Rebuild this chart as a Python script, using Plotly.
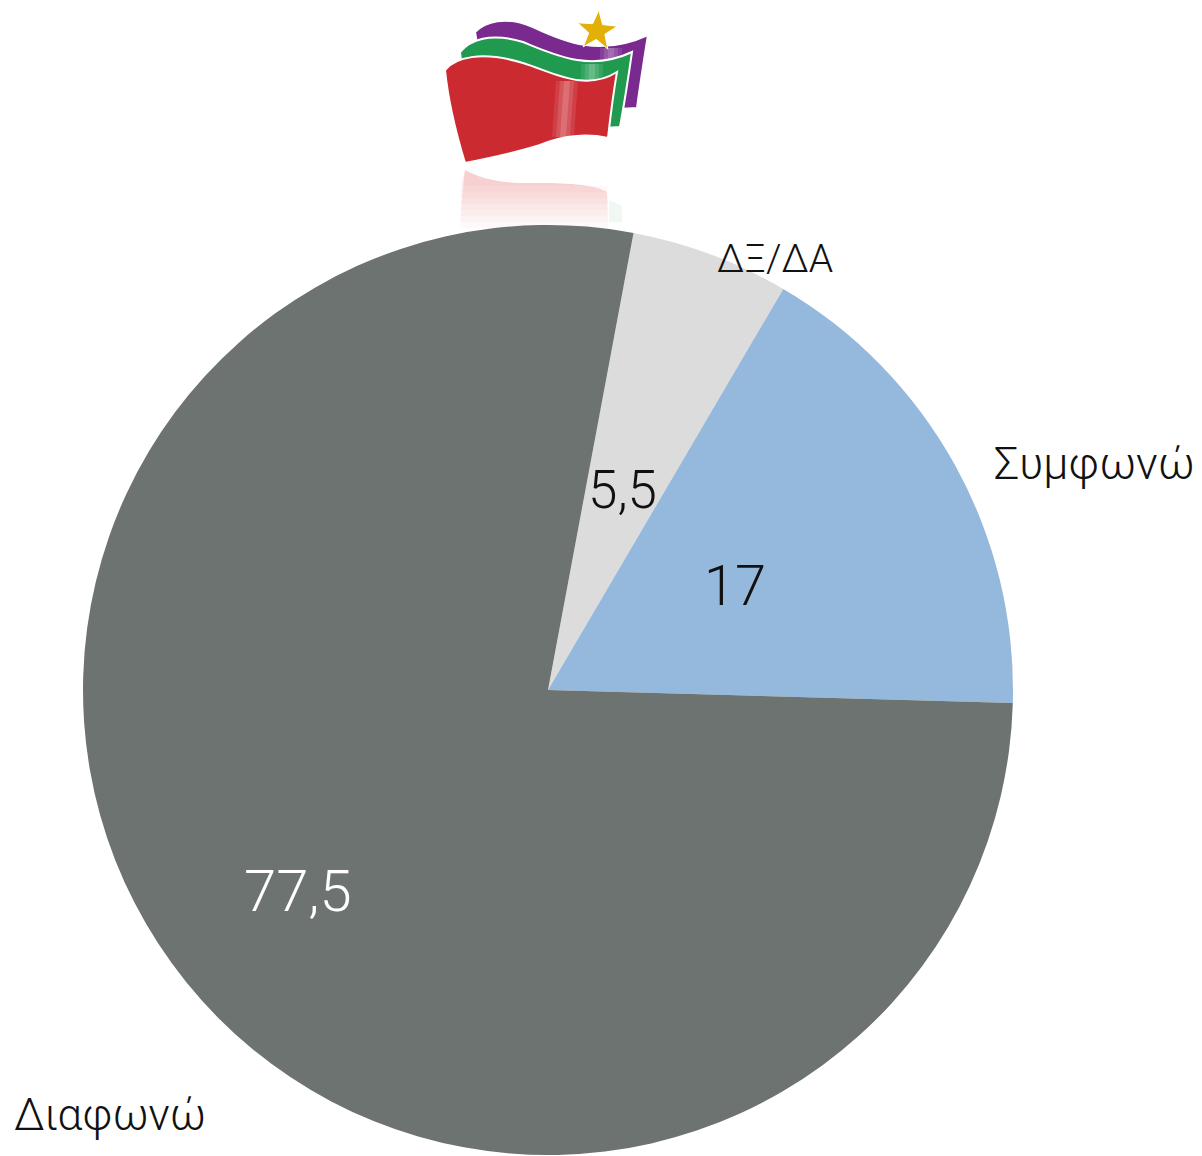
import math
import plotly.graph_objects as go

# Pie data
labels = ["ΔΞ/ΔΑ", "Συμφωνώ", "Διαφωνώ"]
values = [5.5, 17, 77.5]
valueText = ["5,5", "17", "77,5"]
sliceColors = ["#dcdcdc", "#95b9dc", "#6d7370"]
textColors = ["#111111", "#111111", "#ffffff"]
valueSizes = [53, 56, 58]

W, H = 1202, 1156
OFF = 8  # the page body adds an 8px margin, so compensate
FONT = "Roboto, Liberation Sans, DejaVu Sans, sans-serif"

# pie geometry in page pixels
CX, CY, R = 548, 690, 465
START = 10.6  # degrees clockwise from 12 o'clock


# pixel -> paper helpers
def px(x):
    return (x - OFF) / W


def py(y):
    return 1 - (y - OFF) / H


def pathFromPixels(cmds):
    out = []
    for c in cmds:
        if isinstance(c, str):
            out.append(c)
        else:
            out.append("%.5f,%.5f" % (px(c[0]), py(c[1])))
    return " ".join(out)


def polyPath(pts):
    cmds = ["M", pts[0]]
    for p in pts[1:]:
        cmds += ["L", p]
    cmds.append("Z")
    return pathFromPixels(cmds)


#
# flag outlines (page pixels) traced from the logo
#
redFlag = ["M", (445, 70), "C", (455, 58), (480, 50), (523, 63),
           "C", (555, 73), (585, 92), (617, 72),
           "C", (613, 95), (610, 120), (608, 138),
           "C", (590, 134), (565, 134), (540, 145),
           "C", (515, 153), (490, 158), (465, 163),
           "C", (455, 130), (448, 100), (445, 70), "Z"]
greenFlag = ["M", (460, 52), "C", (470, 40), (490, 32), (523, 42),
             "C", (555, 55), (590, 72), (632, 52),
             "C", (628, 80), (624, 105), (620, 127),
             "L", (560, 131), "L", (470, 140), "Z"]
purpleFlag = ["M", (475, 32), "C", (485, 22), (505, 15), (533, 27),
              "C", (565, 42), (600, 57), (648, 35),
              "C", (644, 60), (640, 85), (637, 108),
              "L", (600, 110), "L", (490, 120), "Z"]


def reflectionPath(bottom):
    cmds = ["M", (465, 170), "C", (480, 178), (495, 182), (520, 183),
            "C", (550, 183), (590, 182), (607, 192),
            "L", (608, bottom), "L", (460, bottom), "Z"]
    return pathFromPixels(cmds)


def starPath(cx, cy, r1, r2, tilt):
    cmds = []
    for i in range(10):
        r = r1 if i % 2 == 0 else r2
        a = math.radians(-90 + tilt + i * 36)
        cmds += ["M" if i == 0 else "L", (cx + r * math.cos(a), cy + r * math.sin(a))]
    cmds.append("Z")
    return pathFromPixels(cmds)


fig = go.Figure()

fig.add_trace(go.Pie(
    labels=labels,
    values=values,
    textinfo="none",
    marker=dict(colors=sliceColors, line=dict(width=0)),
    sort=False,
    direction="clockwise",
    rotation=START,
    showlegend=False,
    domain=dict(x=[px(CX - R), px(CX + R)], y=[py(CY + R), py(CY - R)]),
))

# value labels placed on each slice's bisector
total = sum(values)
fracs = [0.46, 0.46, 0.69]
ang = START
for txt, v, col, size, f in zip(valueText, values, textColors, valueSizes, fracs):
    mid = math.radians(ang + 180 * v / total)
    ang += 360 * v / total
    x = CX + f * R * math.sin(mid)
    y = CY - f * R * math.cos(mid)
    fig.add_annotation(x=px(x), y=py(y), xref="paper", yref="paper",
                       text=txt, showarrow=False,
                       font=dict(family=FONT, size=size, color=col, weight=300),
                       xanchor="center", yanchor="middle")

# category labels outside the pie
labelPos = [(775, 259, 39), (1094, 463, 45), (110, 1115, 44)]
for name, (x, y, size) in zip(labels, labelPos):
    fig.add_annotation(x=px(x), y=py(y), xref="paper", yref="paper",
                       text=name, showarrow=False,
                       font=dict(family=FONT, size=size, color="#111111", weight=300),
                       xanchor="center", yanchor="middle")

# flag logo on top
shapes = []
# faded reflection under the flag, stacked layers give a soft gradient
for bottom in range(228, 183, -6):
    shapes.append(dict(type="path", path=reflectionPath(bottom), xref="paper", yref="paper",
                       fillcolor="rgba(214,60,70,0.03)", line=dict(width=0), layer="below"))
shapes.append(dict(type="path", path=polyPath([(609, 200), (622, 206), (622, 222), (609, 222)]),
                   xref="paper", yref="paper", fillcolor="rgba(30,154,78,0.07)",
                   line=dict(width=0), layer="below"))


def glossStrips(x0, top, bottom, lean):
    # a few overlapping see-through strips read as a soft highlight
    out = []
    for half, alpha in [(11, 0.10), (7, 0.12), (3, 0.15)]:
        pts = [(x0 - half, top), (x0 + half, top),
               (x0 + half - lean, bottom), (x0 - half - lean, bottom)]
        out.append(dict(type="path", path=polyPath(pts), xref="paper", yref="paper",
                        fillcolor="rgba(255,255,255,%.2f)" % alpha, line=dict(width=0)))
    return out


flagParts = [
    (purpleFlag, "#7a2a8e", (611, 48, 100, 1)),
    (greenFlag, "#1f9a4e", (592, 64, 120, 1)),
    (redFlag, "#cb2a30", (567, 81, 137, 4)),
]
for outline, col, (gx, gt, gb, lean) in flagParts:
    shapes.append(dict(type="path", path=pathFromPixels(outline), xref="paper", yref="paper",
                       fillcolor=col, line=dict(color="white", width=2)))
    shapes += glossStrips(gx, gt, gb, lean)
shapes.append(dict(type="path", path=starPath(597, 31, 21, 8.5, 5), xref="paper", yref="paper",
                   fillcolor="#e2b007", line=dict(color="white", width=1)))

fig.update_layout(
    width=W, height=H,
    margin=dict(l=0, r=0, t=0, b=0),
    paper_bgcolor="white",
    plot_bgcolor="white",
    shapes=shapes,
    font=dict(family=FONT),
)

fig.write_html("out.html")
